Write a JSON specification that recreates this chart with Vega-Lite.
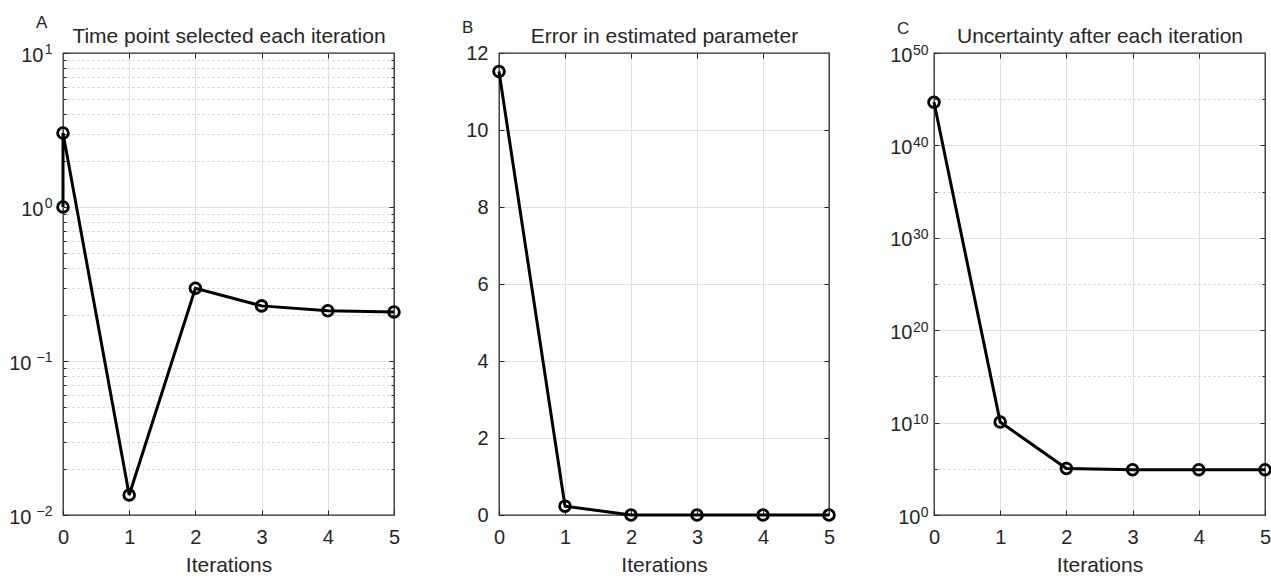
{
  "$schema": "https://vega.github.io/schema/vega-lite/v6.json",
  "background": "white",
  "padding": {"left": 8, "top": 12, "right": 4, "bottom": 0},
  "bounds": "flush",
  "spacing": 105,
  "datasets": {
    "A": [
      {"seq": 1, "iter": 0, "value": 1.0},
      {"seq": 2, "iter": 0, "value": 3.02},
      {"seq": 3, "iter": 1, "value": 0.0135},
      {"seq": 4, "iter": 2, "value": 0.297},
      {"seq": 5, "iter": 3, "value": 0.228},
      {"seq": 6, "iter": 4, "value": 0.212},
      {"seq": 7, "iter": 5, "value": 0.208}
    ],
    "B": [
      {"seq": 1, "iter": 0, "value": 11.52},
      {"seq": 2, "iter": 1, "value": 0.23},
      {"seq": 3, "iter": 2, "value": 0.0},
      {"seq": 4, "iter": 3, "value": 0.0},
      {"seq": 5, "iter": 4, "value": 0.0},
      {"seq": 6, "iter": 5, "value": 0.0}
    ],
    "C": [
      {"seq": 1, "iter": 0, "value": 4.6e44},
      {"seq": 2, "iter": 1, "value": 1.15e10},
      {"seq": 3, "iter": 2, "value": 1.1e5},
      {"seq": 4, "iter": 3, "value": 8e4},
      {"seq": 5, "iter": 4, "value": 8e4},
      {"seq": 6, "iter": 5, "value": 8e4}
    ]
  },
  "hconcat": [
    {
      "width": 331, "height": 462,
      "data": {"name": "A"},
      "title": {"text": "A", "anchor": "start", "frame": "group", "dx": -27, "offset": -6},
      "resolve": {"axis": {"x": "independent", "y": "independent"}},
      "layer": [
        {
          "mark": {"type": "line", "color": "#000000", "strokeWidth": 3},
          "encoding": {
            "x": {"field": "iter", "type": "quantitative", "scale": {"domain": [0, 5], "nice": false, "zero": false},
                  "axis": {"orient": "bottom", "values": [0, 1, 2, 3, 4, 5], "format": "d", "title": "Iterations", "grid": false, "labelPadding": 17, "titlePadding": 7}},
            "y": {"field": "value", "type": "quantitative", "scale": {"type": "log", "domain": [0.01, 10], "nice": false},
                  "axis": {"orient": "left", "values": [0.01, 0.1, 1, 10], "title": null, "grid": false,
                           "labelFontSize": 14, "labelPadding": 16, "labelOffset": -4, "labelAlign": "right", "labelBaseline": "middle",
                           "labelExpr": "datum.value < 0.05 ? '−2' : datum.value < 0.5 ? '−1' : datum.value < 5 ? '0' : '1'"}},
            "order": {"field": "seq", "type": "quantitative"}
          }
        },
        {
          "mark": {"type": "point", "shape": "circle", "filled": false, "color": "#000000", "strokeWidth": 2.8, "size": 115, "opacity": 1},
          "encoding": {
            "x": {"field": "iter", "type": "quantitative", "scale": {"domain": [0, 5], "nice": false, "zero": false},
                  "axis": {"orient": "top", "values": [1, 2, 3, 4], "labels": false, "grid": true, "title": "Time point selected each iteration", "titlePadding": 6}},
            "y": {"field": "value", "type": "quantitative", "scale": {"type": "log", "domain": [0.01, 10], "nice": false},
                  "axis": {"orient": "right", "values": [0.1, 1], "labels": false, "grid": true, "title": null}}
          }
        },
        {
          "mark": {"type": "point", "opacity": 0},
          "encoding": {
            "x": {"field": "iter", "type": "quantitative", "axis": null},
            "y": {"field": "value", "type": "quantitative", "scale": {"type": "log", "domain": [0.01, 10], "nice": false},
                  "axis": {"orient": "left", "values": [0.02,0.03,0.04,0.05,0.06,0.07,0.08,0.09,0.2,0.3,0.4,0.5,0.6,0.7,0.8,0.9,2,3,4,5,6,7,8,9], "labels": false, "grid": false, "tickSize": -3, "title": null}}
          }
        },
        {
          "mark": {"type": "point", "opacity": 0},
          "encoding": {
            "x": {"field": "iter", "type": "quantitative", "axis": null},
            "y": {"field": "value", "type": "quantitative", "scale": {"type": "log", "domain": [0.01, 10], "nice": false},
                  "axis": {"orient": "right", "values": [0.02,0.03,0.04,0.05,0.06,0.07,0.08,0.09,0.2,0.3,0.4,0.5,0.6,0.7,0.8,0.9,2,3,4,5,6,7,8,9], "labels": false, "grid": true, "gridDash": [2, 3], "gridColor": "#cdcdcd", "tickSize": -3, "title": null}}
          }
        },
        {
          "mark": {"type": "point", "opacity": 0},
          "encoding": {
            "x": {"field": "iter", "type": "quantitative", "axis": null},
            "y": {"field": "value", "type": "quantitative", "scale": {"type": "log", "domain": [0.01, 10], "nice": false},
                  "axis": {"orient": "left", "values": [0.01, 0.1, 1, 10], "ticks": false, "grid": false, "title": null,
                           "labelExpr": "'10'", "labelOffset": 2, "labelAlign": "right", "labelBaseline": "middle",
                           "labelPadding": {"condition": {"test": "datum.value < 0.5", "value": 32}, "value": 20}}}
          }
        }
      ]
    },
    {
      "width": 330, "height": 462,
      "data": {"name": "B"},
      "title": {"text": "B", "anchor": "start", "frame": "group", "dx": -37, "offset": -11},
      "resolve": {"axis": {"x": "independent", "y": "independent"}},
      "layer": [
        {
          "mark": {"type": "line", "color": "#000000", "strokeWidth": 3},
          "encoding": {
            "x": {"field": "iter", "type": "quantitative", "scale": {"domain": [0, 5], "nice": false, "zero": false},
                  "axis": {"orient": "bottom", "values": [0, 1, 2, 3, 4, 5], "format": "d", "title": "Iterations", "grid": false, "labelPadding": 17, "titlePadding": 7}},
            "y": {"field": "value", "type": "quantitative", "scale": {"domain": [0, 12], "nice": false},
                  "axis": {"orient": "left", "values": [0, 2, 4, 6, 8, 10, 12], "format": "d", "title": null, "grid": false, "labelPadding": 16}},
            "order": {"field": "seq", "type": "quantitative"}
          }
        },
        {
          "mark": {"type": "point", "shape": "circle", "filled": false, "color": "#000000", "strokeWidth": 2.8, "size": 115, "opacity": 1},
          "encoding": {
            "x": {"field": "iter", "type": "quantitative", "scale": {"domain": [0, 5], "nice": false, "zero": false},
                  "axis": {"orient": "top", "values": [1, 2, 3, 4], "labels": false, "grid": true, "title": "Error in estimated parameter", "titlePadding": 6}},
            "y": {"field": "value", "type": "quantitative", "scale": {"domain": [0, 12], "nice": false},
                  "axis": {"orient": "right", "values": [2, 4, 6, 8, 10], "labels": false, "grid": true, "title": null}}
          }
        }
      ]
    },
    {
      "width": 331, "height": 462,
      "data": {"name": "C"},
      "title": {"text": "C", "anchor": "start", "frame": "group", "dx": -37, "offset": -12},
      "resolve": {"axis": {"x": "independent", "y": "independent"}},
      "layer": [
        {
          "mark": {"type": "line", "color": "#000000", "strokeWidth": 3},
          "encoding": {
            "x": {"field": "iter", "type": "quantitative", "scale": {"domain": [0, 5], "nice": false, "zero": false},
                  "axis": {"orient": "bottom", "values": [0, 1, 2, 3, 4, 5], "format": "d", "title": "Iterations", "grid": false, "labelPadding": 17, "titlePadding": 7}},
            "y": {"field": "value", "type": "quantitative", "scale": {"type": "log", "domain": [1, 1e50], "nice": false},
                  "axis": {"orient": "left", "values": [1, 1e10, 1e20, 1e30, 1e40, 1e50], "title": null, "grid": false,
                           "labelFontSize": 14, "labelPadding": 11, "labelOffset": -3, "labelAlign": "right", "labelBaseline": "middle",
                           "labelExpr": "datum.value < 1e5 ? '0' : datum.value < 1e15 ? '10' : datum.value < 1e25 ? '20' : datum.value < 1e35 ? '30' : datum.value < 1e45 ? '40' : '50'"}},
            "order": {"field": "seq", "type": "quantitative"}
          }
        },
        {
          "mark": {"type": "point", "shape": "circle", "filled": false, "color": "#000000", "strokeWidth": 2.8, "size": 115, "opacity": 1},
          "encoding": {
            "x": {"field": "iter", "type": "quantitative", "scale": {"domain": [0, 5], "nice": false, "zero": false},
                  "axis": {"orient": "top", "values": [1, 2, 3, 4], "labels": false, "grid": true, "title": "Uncertainty after each iteration", "titlePadding": 6}},
            "y": {"field": "value", "type": "quantitative", "scale": {"type": "log", "domain": [1, 1e50], "nice": false},
                  "axis": {"orient": "right", "values": [1e10, 1e20, 1e30, 1e40], "labels": false, "grid": true, "title": null}}
          }
        },
        {
          "mark": {"type": "point", "opacity": 0},
          "encoding": {
            "x": {"field": "iter", "type": "quantitative", "axis": null},
            "y": {"field": "value", "type": "quantitative", "scale": {"type": "log", "domain": [1, 1e50], "nice": false},
                  "axis": {"orient": "left", "values": [1e5, 1e15, 1e25, 1e35, 1e45], "labels": false, "grid": false, "tickSize": -3, "title": null}}
          }
        },
        {
          "mark": {"type": "point", "opacity": 0},
          "encoding": {
            "x": {"field": "iter", "type": "quantitative", "axis": null},
            "y": {"field": "value", "type": "quantitative", "scale": {"type": "log", "domain": [1, 1e50], "nice": false},
                  "axis": {"orient": "right", "values": [1e5, 1e15, 1e25, 1e35, 1e45], "labels": false, "grid": true, "gridDash": [2, 3], "gridColor": "#cdcdcd", "tickSize": -3, "title": null}}
          }
        },
        {
          "mark": {"type": "point", "opacity": 0},
          "encoding": {
            "x": {"field": "iter", "type": "quantitative", "axis": null},
            "y": {"field": "value", "type": "quantitative", "scale": {"type": "log", "domain": [1, 1e50], "nice": false},
                  "axis": {"orient": "left", "values": [1, 1e10, 1e20, 1e30, 1e40, 1e50], "ticks": false, "grid": false, "title": null,
                           "labelExpr": "'10'", "labelOffset": 2, "labelAlign": "right", "labelBaseline": "middle",
                           "labelPadding": {"condition": {"test": "datum.value < 1e5", "value": 14}, "value": 22}}}
          }
        }
      ]
    }
  ],
  "config": {
    "font": "Liberation Sans",
    "view": {"stroke": "#262626", "strokeWidth": 1.3},
    "axis": {
      "domain": false, "tickColor": "#262626", "tickSize": -5, "tickWidth": 1,
      "labelFont": "Liberation Sans", "labelFontSize": 20, "labelColor": "#262626", "labelPadding": 8,
      "labelFlush": false, "labelOverlap": false, "labelBound": false,
      "titleFont": "Liberation Sans", "titleFontSize": 21, "titleFontWeight": "normal", "titleColor": "#262626",
      "gridColor": "#e0e0e0", "gridWidth": 1, "gridOpacity": 1
    },
    "title": {"font": "Liberation Sans", "fontSize": 17, "fontWeight": "normal", "color": "#262626"}
  }
}
